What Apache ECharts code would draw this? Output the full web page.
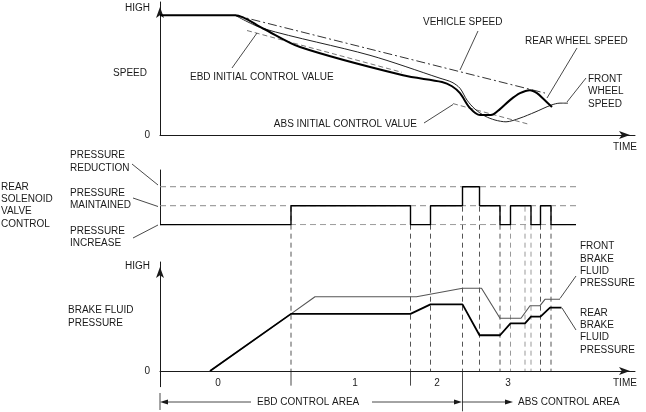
<!DOCTYPE html>
<html>
<head>
<meta charset="utf-8">
<script src="https://cdn.jsdelivr.net/npm/echarts@6/dist/echarts.min.js"></script>
<style>
html, body { margin: 0; padding: 0; background: #fff; }
#chart { width: 646px; height: 412px; }
</style>
</head>
<body>
<div id="chart"></div>
<script>
// time axis: 0..95 (arbitrary units), speed / pressure: 0..100 (HIGH = 100)

// speed panel
var vehicleSpeed = [[15, 100], [77, 35]];
var rearWheelSpeed = [[0, 100], [15, 100], [20.6, 88.9], [28, 73.4], [48.6, 49.8], [56.4, 44.3], [58.4, 40.7], [60, 34.9], [62, 22.4], [64, 16.6], [66.2, 16.6], [68, 21.6], [70, 29.1], [72, 34.9], [74, 37.4], [75.4, 34.9], [76.6, 30.5], [78.4, 23.3]];
var frontWheelSpeed = [[15, 100], [20.6, 88.9], [42, 66.5], [56, 47.4], [58.4, 44], [60, 39], [61.4, 29.1], [63, 21.6], [65, 15.8], [67, 12.5], [69.2, 11], [72, 14.1], [75, 19.1], [78.2, 24.9], [80, 26.6], [81.6, 26.6]];
var ebdInitial = [[17.4, 87.2], [48.4, 52.3]];
var absInitial = [[58.6, 26.2], [74, 8.7]];

// solenoid valve: 0 = increase, 1 = maintained, 2 = reduction
var valveLevels = [0, 1, 2];
var valveEnd = 83.2;
var valveControl = [[0, 0], [26.2, 1], [50.1, 0], [54.1, 1], [60.5, 2], [63.9, 1], [68, 0], [70.1, 1], [74.2, 0], [76.1, 1], [78.2, 0], [83.2, 0]];

// brake fluid pressure
var frontBrake = [[10, 0], [26.2, 54.5], [31, 70.9], [51.3, 70.9], [60.5, 78.9], [64.3, 78.9], [68, 50.3], [72.2, 50.3], [74, 62.3], [76, 62.3], [77, 68.4], [80, 68.4]];
var rearBrake = [[10, 0], [26.2, 54.5], [50.1, 54.5], [54.1, 63.6], [60.5, 63.6], [63.9, 34.1], [68, 34.1], [70.1, 45.5], [73, 45.5], [74.2, 51.8], [76.1, 51.8], [78, 60.4], [80.3, 60.4]];

// control phase boundaries
var dividers = [26.2, 50.1, 54.1, 60.5, 63.9, 68, 70.1, 73, 74.2, 76.1, 78.2];
var phaseBounds = [26.2, 50.1];
var absStart = 60.5;
var phaseLabels = ['0', '1', '2', '3'];
var phaseLabelPos = [11.6, 39, 55.4, 69.6];

var FONT = '"Liberation Sans", Arial, sans-serif';
var INK = '#1a1a1a';

var myChart = echarts.init(document.getElementById('chart'), null, { renderer: 'canvas' });

function txt(text, x, y, align) {
    return {
        type: 'text',
        style: {
            text: text, x: x, y: y,
            fill: INK, fontSize: 10, fontFamily: FONT, lineHeight: 12.4,
            align: align || 'left', textAlign: align || 'left',
            verticalAlign: 'middle', textVerticalAlign: 'middle'
        },
        z: 100
    };
}
function seg(x1, y1, x2, y2) {
    return { type: 'line', shape: { x1: x1, y1: y1, x2: x2, y2: y2 }, style: { stroke: INK, lineWidth: 0.8 }, z: 100 };
}
function head(points) {
    return { type: 'polygon', shape: { points: points }, style: { fill: INK }, z: 100 };
}

var axisLineStyle = { color: INK, width: 1 };
var arrowEnd = { symbol: ['none', 'arrow'], symbolSize: [6, 11], symbolOffset: [0, -5] };

var series = [];

// dashed vertical phase lines (drawn from the bottom grid, beyond its top)
dividers.forEach(function(t) {
    series.push({
        type: 'line', xAxisIndex: 2, yAxisIndex: 2, clip: false, silent: true,
        symbol: 'none', data: [[t, 156.8], [t, 0]],
        lineStyle: { color: (t == 73 || t == 74.2 || t == 70.1) ? '#999' : '#555', width: 1, type: [5, 4] }, z: 1
    });
});
// solid phase marks under the time axis
phaseBounds.forEach(function(t) {
    series.push({
        type: 'line', xAxisIndex: 2, yAxisIndex: 2, clip: false, silent: true,
        symbol: 'none', data: [[t, 0], [t, -14]],
        lineStyle: { color: INK, width: 0.8 }, z: 2
    });
});
series.push({
    type: 'line', xAxisIndex: 2, yAxisIndex: 2, clip: false, silent: true,
    symbol: 'none', data: [[absStart, 0], [absStart, -38.5]],
    lineStyle: { color: INK, width: 0.8 }, z: 2
});

// valve reference levels
valveLevels.forEach(function(l) {
    series.push({
        type: 'line', xAxisIndex: 1, yAxisIndex: 1, symbol: 'none', silent: true,
        data: [[0, l], [valveEnd, l]],
        lineStyle: { color: '#8a8a8a', width: 1, type: [6, 4] }, z: 2
    });
});

series.push(
    { name: 'VEHICLE SPEED', type: 'line', xAxisIndex: 0, yAxisIndex: 0, symbol: 'none', data: vehicleSpeed,
      lineStyle: { color: '#333', width: 1, type: [9, 3, 2, 3] }, z: 3 },
    { name: 'EBD INITIAL CONTROL VALUE', type: 'line', xAxisIndex: 0, yAxisIndex: 0, symbol: 'none', data: ebdInitial,
      lineStyle: { color: '#777', width: 1, type: [5, 3] }, z: 3 },
    { name: 'ABS INITIAL CONTROL VALUE', type: 'line', xAxisIndex: 0, yAxisIndex: 0, symbol: 'none', data: absInitial,
      lineStyle: { color: '#777', width: 1, type: [5, 3] }, z: 3 },
    { name: 'FRONT WHEEL SPEED', type: 'line', xAxisIndex: 0, yAxisIndex: 0, symbol: 'none', smooth: 0.3, data: frontWheelSpeed,
      lineStyle: { color: '#222', width: 1 }, z: 4 },
    { name: 'REAR WHEEL SPEED', type: 'line', xAxisIndex: 0, yAxisIndex: 0, symbol: 'none', smooth: 0.3, data: rearWheelSpeed,
      lineStyle: { color: '#000', width: 2 }, z: 5 },
    { name: 'REAR SOLENOID VALVE CONTROL', type: 'line', xAxisIndex: 1, yAxisIndex: 1, symbol: 'none', step: 'end', data: valveControl,
      lineStyle: { color: '#000', width: 1.4 }, z: 6 },
    { name: 'FRONT BRAKE FLUID PRESSURE', type: 'line', xAxisIndex: 2, yAxisIndex: 2, symbol: 'none', data: frontBrake,
      lineStyle: { color: '#555', width: 1.1 }, z: 4 },
    { name: 'REAR BRAKE FLUID PRESSURE', type: 'line', xAxisIndex: 2, yAxisIndex: 2, symbol: 'none', data: rearBrake,
      lineStyle: { color: '#000', width: 1.8 }, z: 5 }
);

var option = {
    animation: false,
    backgroundColor: '#fff',
    textStyle: { fontFamily: FONT },
    grid: [
        { left: 160, width: 475, top: 2, height: 133, containLabel: false, outerBoundsMode: 'none' },
        { left: 160, width: 475, top: 170, height: 54.7, containLabel: false, outerBoundsMode: 'none' },
        { left: 160, width: 475, top: 262, height: 124.7, containLabel: false, outerBoundsMode: 'none' }
    ],
    xAxis: [
        { type: 'value', gridIndex: 0, min: 0, max: 95,
          axisLine: Object.assign({ show: true, onZero: false, lineStyle: axisLineStyle }, arrowEnd),
          axisTick: { show: false }, axisLabel: { show: false }, splitLine: { show: false } },
        { type: 'value', gridIndex: 1, min: 0, max: 95, show: false, splitLine: { show: false } },
        { type: 'value', gridIndex: 2, min: 0, max: 95,
          axisLine: Object.assign({ show: true, onZero: true, lineStyle: axisLineStyle }, arrowEnd),
          axisTick: { show: false }, splitLine: { show: false },
          axisLabel: { show: true, customValues: phaseLabelPos, margin: -8, color: INK, fontSize: 10, fontFamily: FONT,
            formatter: function(v) { var i = phaseLabelPos.indexOf(v); return i < 0 ? '' : phaseLabels[i]; } } }
    ],
    yAxis: [
        { type: 'value', gridIndex: 0, min: 0, max: 111,
          axisLine: Object.assign({ show: true, onZero: false, lineStyle: axisLineStyle }, arrowEnd),
          axisTick: { show: false }, splitLine: { show: false },
          axisLabel: { show: true, customValues: [0, 106], margin: 10, color: INK, fontSize: 10, fontFamily: FONT,
            formatter: function(v) { return v == 0 ? '0' : 'HIGH'; } } },
        { type: 'value', gridIndex: 1, min: 0, max: 2.88,
          axisLine: { show: true, onZero: false, lineStyle: axisLineStyle },
          axisTick: { show: false }, axisLabel: { show: false }, splitLine: { show: false } },
        { type: 'value', gridIndex: 2, min: -15, max: 104,
          axisLine: Object.assign({ show: true, onZero: false, lineStyle: axisLineStyle }, arrowEnd),
          axisTick: { show: false }, splitLine: { show: false },
          axisLabel: { show: true, customValues: [0, 100], margin: 10, color: INK, fontSize: 10, fontFamily: FONT,
            formatter: function(v) { return v == 0 ? '0' : 'HIGH'; } } }
    ],
    graphic: [
        // speed panel
        txt('SPEED', 147, 73, 'right'),
        txt('TIME', 613, 147),
        txt('VEHICLE SPEED', 423, 22.5),
        seg(478, 31, 460, 70),
        txt('REAR WHEEL SPEED', 525, 41),
        seg(577, 48, 547, 98),
        txt('FRONT\nWHEEL\nSPEED', 588, 91.5),
        seg(586, 78, 567, 102),
        txt('EBD INITIAL CONTROL VALUE', 190, 77.5),
        seg(232, 68, 257, 33),
        txt('ABS INITIAL CONTROL VALUE', 417, 124, 'right'),
        seg(424, 123, 453, 104.5),
        // valve panel
        txt('REAR\nSOLENOID\nVALVE\nCONTROL', 1, 205.5),
        txt('PRESSURE\nREDUCTION', 70, 161.6),
        seg(132, 164, 158, 185),
        txt('PRESSURE\nMAINTAINED', 70, 199.5),
        seg(133, 198, 158, 206.5),
        txt('PRESSURE\nINCREASE', 70, 237.2),
        seg(133, 238, 158, 225),
        // pressure panel
        txt('BRAKE FLUID\nPRESSURE', 68, 316.7),
        txt('FRONT\nBRAKE\nFLUID\nPRESSURE', 580, 265),
        seg(576, 276, 560, 298.5),
        txt('REAR\nBRAKE\nFLUID\nPRESSURE', 580, 331.5),
        seg(562, 308, 576, 330),
        txt('TIME', 613, 383),
        // control areas
        seg(160, 393, 160, 410),
        seg(163, 402, 251, 402),
        head([[160, 402], [168, 399.5], [168, 404.5]]),
        txt('EBD CONTROL AREA', 257, 402),
        seg(372, 402, 455, 402),
        head([[462, 402], [454, 399.5], [454, 404.5]]),
        seg(462, 402, 505, 402),
        head([[513, 402], [505, 399.5], [505, 404.5]]),
        txt('ABS CONTROL AREA', 518, 402)
    ],
    series: series
};
myChart.setOption(option);
</script>
</body>
</html>
